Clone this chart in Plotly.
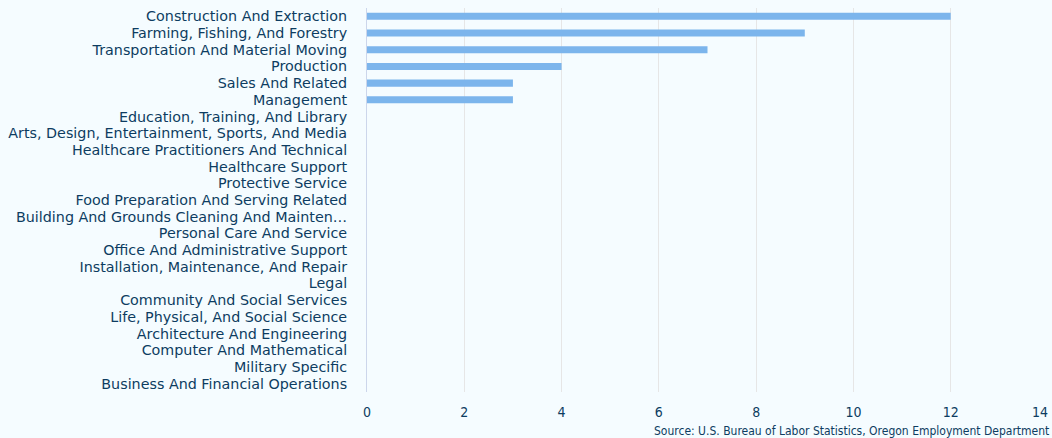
import plotly.graph_objects as go

categories = [
    "Construction And Extraction",
    "Farming, Fishing, And Forestry",
    "Transportation And Material Moving",
    "Production",
    "Sales And Related",
    "Management",
    "Education, Training, And Library",
    "Arts, Design, Entertainment, Sports, And Media",
    "Healthcare Practitioners And Technical",
    "Healthcare Support",
    "Protective Service",
    "Food Preparation And Serving Related",
    "Building And Grounds Cleaning And Mainten…",
    "Personal Care And Service",
    "Office And Administrative Support",
    "Installation, Maintenance, And Repair",
    "Legal",
    "Community And Social Services",
    "Life, Physical, And Social Science",
    "Architecture And Engineering",
    "Computer And Mathematical",
    "Military Specific",
    "Business And Financial Operations",
]
values = [12, 9, 7, 4, 3, 3, 0, 0, 0, 0, 0, 0, 0, 0, 0, 0, 0, 0, 0, 0, 0, 0, 0]
x_ticks = [0, 2, 4, 6, 8, 10, 12, 14]
source = "Source: U.S. Bureau of Labor Statistics, Oregon Employment Department"

text_color = "#0d3c61"
bg = "#f5fcff"
x_range = [0, 14]

fig = go.Figure(go.Bar(
    y=categories, x=values, orientation="h",
    marker=dict(color="#7cb5ec", line=dict(width=0)),
    hoverinfo="x+y",
))
# invisible helper trace so the overlay axis (for the last tick label) is drawn
fig.add_trace(go.Scatter(
    x=[x_ticks[0]], y=[categories[0]], xaxis="x2", yaxis="y",
    mode="markers", marker=dict(opacity=0), hoverinfo="skip", showlegend=False,
))
tick_font = dict(family="DejaVu Sans Condensed", size=14, color=text_color)
fig.update_layout(
    width=1052, height=438,
    paper_bgcolor=bg, plot_bgcolor=bg,
    margin=dict(l=367, r=4, t=8, b=46),
    bargap=0.58,
    font=dict(family="DejaVu Sans", size=14, color=text_color),
    showlegend=False,
    xaxis=dict(
        range=x_range, tickmode="array", tickvals=x_ticks, automargin=False,
        # last label is drawn by the overlay axis so it stays inside the chart
        ticktext=[str(t) for t in x_ticks[:-1]] + [""],
        showgrid=True, gridcolor="#e6e6e6", gridwidth=1,
        zeroline=False, showline=False, ticks="",
        tickfont=tick_font, ticklabelstandoff=10,
    ),
    xaxis2=dict(
        overlaying="x", anchor="y", side="bottom", range=x_range,
        tickmode="array", tickvals=x_ticks[-1:], ticktext=[str(x_ticks[-1])],
        ticklabelposition="outside left", automargin=False,
        showgrid=False, zeroline=False, showline=False, ticks="",
        tickfont=tick_font, ticklabelstandoff=10,
    ),
    yaxis=dict(
        autorange=False, range=[len(categories) - 0.5, -0.5],
        showgrid=False, showline=True, automargin=False,
        tickmode="array", tickvals=categories, ticktext=categories,
        linecolor="#ccd6eb", linewidth=1, ticks="", ticklabelstandoff=16,
        tickfont=dict(family="DejaVu Sans", size=14.3, color=text_color),
    ),
)
fig.add_annotation(
    text=source, xref="paper", yref="paper", x=1, y=0, yshift=-48,
    xanchor="right", yanchor="bottom", showarrow=False,
    xshift=3,
    font=dict(family="DejaVu Sans Condensed", size=12, color=text_color),
)
fig.write_html(
    "out.html",
    config={"displayModeBar": False},
    post_script="document.body.style.margin='0';document.body.style.background='%s';" % bg,
)
